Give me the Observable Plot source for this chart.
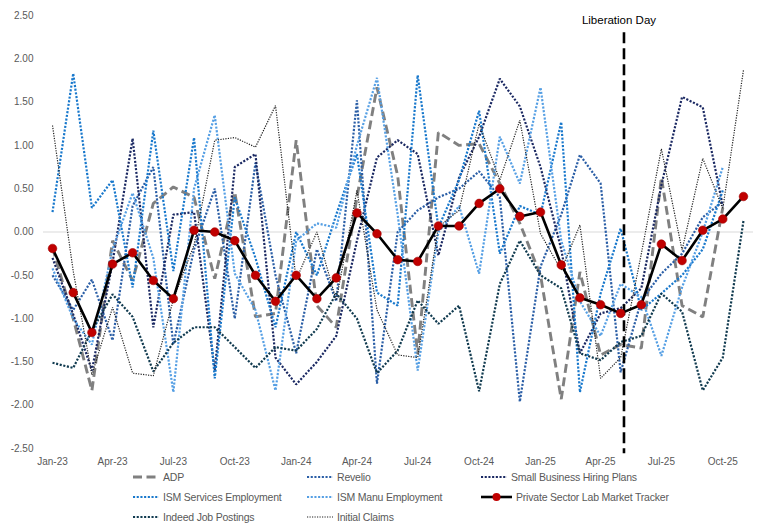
<!DOCTYPE html>
<html><head><meta charset="utf-8">
<script src="https://cdn.jsdelivr.net/npm/d3@7"></script>
<script src="https://cdn.jsdelivr.net/npm/@observablehq/plot@0.6"></script>
<style>
body{margin:0;background:#fff;font-family:"Liberation Sans",Arial,sans-serif;}
#chart{position:relative;width:768px;height:527px;overflow:hidden}
#legend{position:absolute;left:0;top:470px;width:768px;height:57px;}
.li{position:absolute;height:14px;font-size:10.5px;color:#595959;display:flex;align-items:center;white-space:nowrap;letter-spacing:-0.2px}
.li svg{margin-right:4px}
</style></head><body><div id="chart"><div id="plot"></div><div id="legend"></div></div>
<script>
// ---- data ----
const monthLabels = ["Jan-23","Feb-23","Mar-23","Apr-23","May-23","Jun-23","Jul-23","Aug-23","Sep-23","Oct-23","Nov-23","Dec-23",
  "Jan-24","Feb-24","Mar-24","Apr-24","May-24","Jun-24","Jul-24","Aug-24","Sep-24","Oct-24","Nov-24","Dec-24",
  "Jan-25","Feb-25","Mar-25","Apr-25","May-25","Jun-25","Jul-25","Aug-25","Sep-25","Oct-25","Nov-25"];

const adp = [-0.18,-1.0,-1.83,-0.1,-0.56,0.33,0.52,0.4,-0.54,0.46,-0.98,-0.94,1.06,-0.85,-1.1,0.4,1.67,0.65,-1.41,1.15,1.0,1.02,0.56,0.1,-0.5,-1.93,-0.46,-1.42,-1.3,-1.34,0.63,-0.85,-0.98,0.28,null];
const revelio = [-0.5,-0.9,-0.55,-1.25,0.3,0.75,-1.3,-0.2,0.5,-1.0,0.8,-0.5,-1.4,-0.2,-0.8,1.52,-1.75,0.0,0.25,0.4,0.5,0.7,0.4,-1.96,-0.4,0.2,0.89,0.56,-1.62,-0.79,-0.48,-0.25,0.17,0.35,null];
const smallBiz = [-0.3,-0.95,-1.6,-0.35,1.08,-1.1,0.2,0.23,-1.6,0.75,0.9,-1.45,-1.76,-1.5,-1.2,-0.1,0.86,1.06,0.9,-0.27,0.63,1.1,1.77,1.45,0.75,-0.2,-1.4,-0.94,-0.88,-0.65,0.54,1.56,1.44,0.3,null];
const ismServices = [0.23,1.83,0.28,0.6,-0.64,1.17,-0.45,1.09,-1.69,0.4,-0.3,-1.1,0.0,-0.5,0.2,0.9,-0.7,-0.85,1.81,0.05,0.6,1.4,-0.25,0.3,0.2,1.27,-1.85,-0.71,0.04,-0.9,-0.71,-0.5,-0.2,0.48,null];
const ismManu = [-0.42,-1.0,-1.3,-0.2,0.45,-0.3,-1.85,0.5,1.35,-0.48,-0.9,-1.83,-0.1,0.1,0.05,1.0,1.78,0.2,-1.6,0.0,0.3,-0.48,1.1,0.56,1.67,-0.1,-0.8,-1.2,-0.6,-0.75,-1.43,-0.64,0.0,0.75,null];
const tracker = [-0.19,-0.70,-1.16,-0.37,-0.24,-0.56,-0.77,0.02,0.00,-0.10,-0.50,-0.80,-0.50,-0.77,-0.53,0.22,-0.02,-0.32,-0.34,0.07,0.07,0.33,0.50,0.18,0.23,-0.38,-0.76,-0.84,-0.94,-0.84,-0.14,-0.33,0.02,0.15,0.41];
const indeed = [-1.51,-1.57,-1.14,-0.72,-0.98,-1.61,-1.28,-1.1,-1.1,-1.33,-1.57,-1.33,-1.37,-1.12,-0.71,-1.0,-1.63,-1.37,-0.79,-1.06,-0.85,-1.84,-0.6,-0.1,-0.5,-0.65,-1.4,-1.48,-1.27,-1.2,-0.71,-0.92,-1.83,-1.45,0.13];
const initialClaims = [1.23,-0.45,-1.65,-0.87,-1.63,-1.66,-0.78,-0.15,1.06,1.09,0.98,1.46,-0.55,0.0,-0.79,0.48,-0.9,-1.42,-1.45,0.06,0.25,1.25,0.6,1.29,-0.02,-0.44,0.08,-1.69,-1.45,-0.25,0.96,-0.21,0.85,0.27,1.87];

const yTicks = [-2.5,-2.0,-1.5,-1.0,-0.5,0,0.5,1.0,1.5,2.0,2.5];
const eventLabel = "Liberation Day";
const eventDate = new Date("2025-05-06T00:00:00Z");
const eventTop = 2.3, eventBottom = -2.56, eventLabelY = 2.44;

// ---- build ----
const parse = d3.utcParse("%b-%y");
const dates = monthLabels.map(parse);
const rows = vals => vals.map((v, i) => ({date: dates[i], value: v})).filter(d => d.value != null);

const dot = "2.1,1.6";
const series = [
  {name: "ADP", vals: adp, stroke: "#808080", width: 2.9, dash: "9,4.5"},
  {name: "Revelio", vals: revelio, stroke: "#2A5EA6", width: 2.2, dash: dot},
  {name: "Small Business Hiring Plans", vals: smallBiz, stroke: "#1A2862", width: 2.2, dash: dot},
  {name: "ISM Services Employment", vals: ismServices, stroke: "#1878CC", width: 2.2, dash: dot},
  {name: "ISM Manu Employment", vals: ismManu, stroke: "#559FE4", width: 2.2, dash: dot},
  {name: "Indeed Job Postings", vals: indeed, stroke: "#103A4F", width: 2.2, dash: dot},
  {name: "Initial Claims", vals: initialClaims, stroke: "#222", width: 1.2, dash: "1.2,1.3"}
];

const font = '"Liberation Sans",Arial,sans-serif';
const marks = [
  Plot.ruleY([0], {stroke: "#D9D9D9", strokeWidth: 1}),
  ...series.map(s => Plot.line(rows(s.vals), {x: "date", y: "value", stroke: s.stroke, strokeWidth: s.width,
    strokeDasharray: s.dash, strokeLinecap: "butt", strokeLinejoin: "miter"})),
  Plot.ruleX([eventDate], {y1: eventTop, y2: eventBottom, stroke: "#000", strokeWidth: 2.6, strokeDasharray: "11,5"}),
  Plot.text([{date: eventDate, label: eventLabel}], {x: "date", y: eventLabelY, text: "label", fill: "#000", fontSize: 11.5, dx: -5}),
  Plot.line(rows(tracker), {x: "date", y: "value", stroke: "#000", strokeWidth: 2.6}),
  Plot.dot(rows(tracker), {x: "date", y: "value", r: 4.3, fill: "#C00000", stroke: "#A00000", strokeWidth: 0.6})
];

const plot = Plot.plot({
  width: 768, height: 470,
  marginLeft: 43, marginRight: 15, marginTop: 15, marginBottom: 22,
  style: {fontFamily: font, fontSize: "10px", color: "#595959", background: "#fff"},
  x: {type: "utc", domain: [new Date("2022-12-18T12:00:00Z"), new Date("2025-11-16T00:00:00Z")],
      ticks: d3.utcMonth.every(3), tickFormat: d3.utcFormat("%b-%y"), tickSize: 0, tickPadding: 9, label: null},
  y: {domain: [-2.5, 2.5], ticks: yTicks, tickFormat: v => v.toFixed(2), tickSize: 0, tickPadding: 10, label: null},
  marks
});
document.getElementById("plot").appendChild(plot);

// ---- legend ----
const legendItems = [
  {s: series[0], col: 0, row: 0},
  {s: series[1], col: 1, row: 0},
  {s: series[2], col: 2, row: 0},
  {s: series[3], col: 0, row: 1},
  {s: series[4], col: 1, row: 1},
  {s: {name: "Private Sector Lab Market Tracker", tracker: true}, col: 2, row: 1},
  {s: series[5], col: 0, row: 2},
  {s: series[6], col: 1, row: 2}
];
const colX = [133, 307, 481], rowY = [0, 20, 39.5];
const legend = d3.select("#legend");
for (const it of legendItems) {
  const div = legend.append("div").attr("class", "li")
    .style("left", colX[it.col] + "px").style("top", rowY[it.row] + "px");
  const w = it.s.tracker ? 31 : 26;
  const svg = div.append("svg").attr("width", w).attr("height", 14);
  if (it.s.tracker) {
    svg.append("line").attr("x1", 0).attr("x2", w).attr("y1", 7).attr("y2", 7).attr("stroke", "#000").attr("stroke-width", 2.6);
    svg.append("circle").attr("cx", w / 2).attr("cy", 7).attr("r", 4).attr("fill", "#C00000");
  } else {
    svg.append("line").attr("x1", 0).attr("x2", w).attr("y1", 7).attr("y2", 7)
      .attr("stroke", it.s.stroke).attr("stroke-width", it.s.width).attr("stroke-dasharray", it.s.dash);
  }
  div.append("span").text(it.s.name);
}
</script>
</body></html>
